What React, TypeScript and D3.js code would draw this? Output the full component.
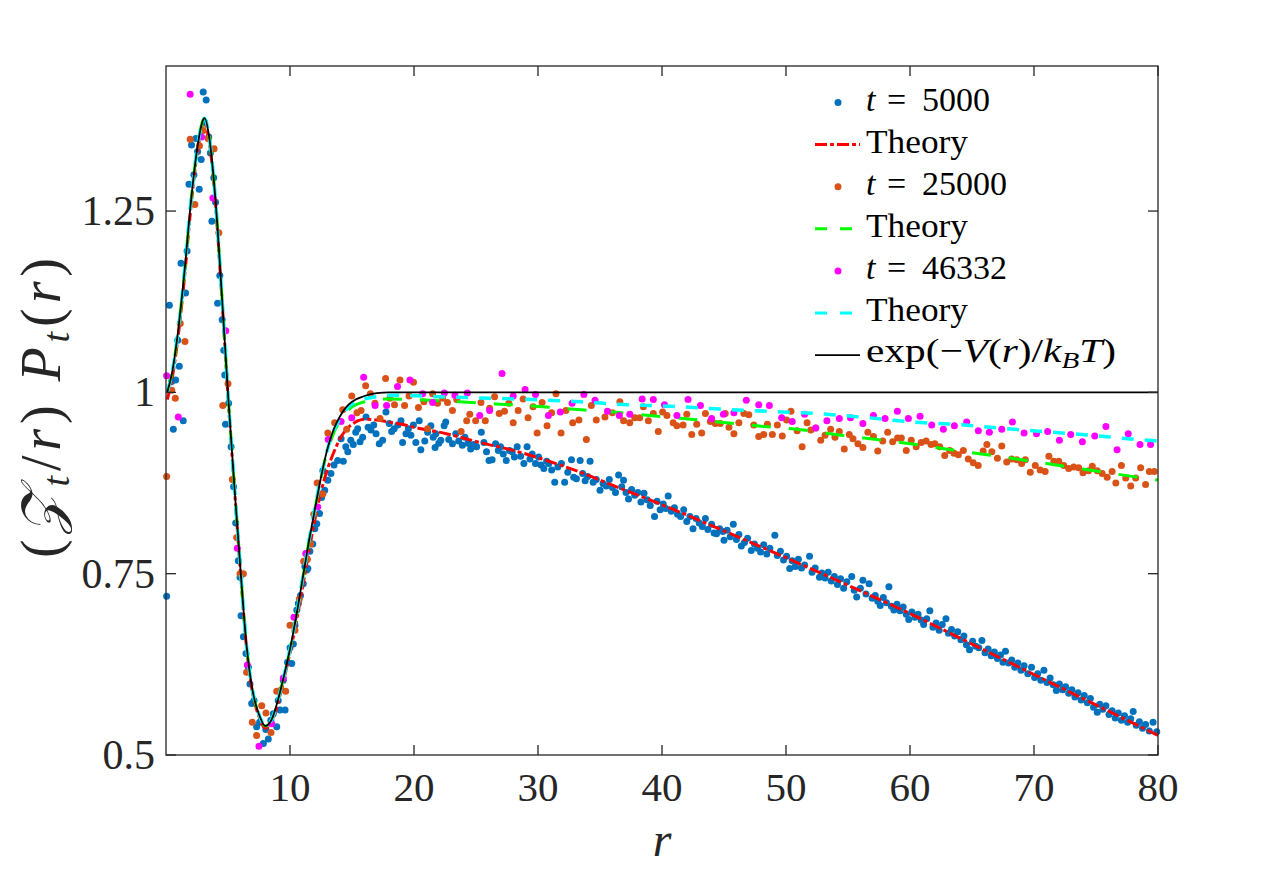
import React from 'react';
import * as d3 from 'd3';

type P = [number, number];

// ---------- data ----------
const BLUE_T5000: P[] = [
[0.05,.719],[0.27,1.120],[0.45,1.015],[0.59,.949],[0.78,1.017],[0.95,1.072],[1.07,1.036],[1.21,1.178],[1.39,.961],[1.58,1.137],
[1.70,1.195],[1.85,1.287],[2.06,1.341],[2.25,1.300],[2.41,1.350],[2.55,1.332],[2.68,1.280],[2.84,1.321],[3.00,1.414],[3.12,1.372],
[3.24,1.403],[3.45,1.352],[3.58,1.330],[3.70,1.236],[3.85,1.296],[4.00,1.262],[4.16,1.123],[4.34,1.161],[4.53,1.100],[4.66,1.058],
[4.74,1.024],[4.80,.956],[5.05,.985],[5.25,.925],[5.45,.870],[5.62,.820],[5.83,.768],[5.97,.745],[6.05,.692],[6.24,.663],
[6.45,.640],[6.64,.621],[6.77,.598],[6.91,.571],[7.10,.575],[7.31,.539],[7.55,.545],[7.85,.516],[8.05,.535],[8.25,.522],
[8.45,.548],[8.65,.557],[8.93,.539],[9.05,.575],[9.19,.562],[9.46,.603],[9.60,.562],[9.80,.628],[10.00,.648],[10.14,.626],
[10.27,.653],[10.40,.679],[10.55,.700],[10.67,.709],[10.85,.720],[11.07,.736],[11.20,.760],[11.35,.755],[11.44,.757],[11.60,.781],
[11.84,.791],[12.00,.812],[12.16,.819],[12.38,.833],[12.55,.855],[12.65,.892],[12.80,.865],[13.05,.879],[13.30,.888],[13.55,.900],
[13.85,.906],[14.12,.936],[14.30,.905],[14.50,.925],[14.66,.918],[14.90,.934],[15.10,.928],[15.30,.945],[15.46,.950],[15.65,.932],
[15.86,.938],[16.13,.966],[16.30,.952],[16.53,.948],[16.75,.955],[16.94,.943],[17.20,.929],[17.47,.934],[17.74,.973],[18.00,.957],
[18.20,.946],[18.40,.950],[18.70,.955],[18.95,.961],[19.08,.931],[19.35,.943],[19.55,.950],[19.75,.941],[19.95,.955],[20.15,.931],
[20.42,.961],[20.55,.921],[20.87,.933],[21.10,.945],[21.36,.954],[21.55,.938],[21.70,.924],[21.76,.943],[22.00,.930],[22.16,.934],
[22.43,.954],[22.56,.959],[22.80,.935],[23.10,.929],[23.37,.943],[23.60,.933],[23.90,.927],[24.10,.938],[24.35,.930],[24.57,.922],
[24.80,.928],[25.05,.925],[25.43,.945],[25.64,.931],[25.85,.918],[26.05,.906],[26.30,.907],[26.58,.929],[26.80,.920],[26.98,.925],
[27.20,.915],[27.44,.906],[27.70,.920],[27.92,.918],[28.10,.911],[28.32,.925],[28.60,.912],[28.86,.902],[29.12,.925],[29.35,.908],
[29.53,.915],[29.80,.902],[30.05,.911],[30.25,.900],[30.47,.895],[30.70,.905],[30.87,.902],[31.10,.893],[31.35,.876],[31.60,.897],
[31.89,.902],[32.15,.876],[32.40,.890],[32.70,.907],[32.88,.883],[33.10,.881],[33.40,.906],[33.60,.888],[33.80,.878],[34.00,.884],
[34.20,.905],[34.45,.876],[34.70,.880],[35.00,.865],[35.25,.874],[35.50,.871],[35.75,.880],[36.00,.869],[36.25,.862],[36.50,.886],
[36.75,.870],[36.90,.879],[37.10,.862],[37.30,.853],[37.55,.866],[37.80,.858],[38.05,.862],[38.30,.849],[38.55,.861],[38.80,.852],
[39.05,.844],[39.40,.829],[39.60,.850],[39.85,.838],[40.10,.846],[40.30,.840],[40.50,.857],[40.75,.836],[41.00,.841],[41.25,.832],
[41.50,.829],[41.75,.838],[42.00,.822],[42.25,.829],[42.50,.812],[42.75,.826],[43.00,.820],[43.25,.815],[43.50,.826],[43.70,.811],
[44.00,.818],[44.20,.806],[44.40,.805],[44.65,.812],[44.90,.808],[45.00,.796],[45.25,.810],[45.50,.801],[45.75,.818],[46.00,.797],
[46.20,.804],[46.40,.788],[46.65,.793],[46.90,.799],[47.20,.782],[47.45,.791],[47.70,.785],[47.95,.780],[48.20,.790],[48.45,.777],
[48.70,.785],[49.10,.803],[49.30,.775],[49.55,.781],[49.80,.769],[50.05,.774],[50.30,.757],[50.50,.768],[50.75,.760],[51.00,.770],
[51.25,.758],[51.50,.762],[51.90,.774],[52.10,.752],[52.35,.758],[52.70,.745],[52.90,.751],[53.15,.744],[53.40,.752],[53.65,.740],
[53.90,.746],[54.15,.735],[54.40,.743],[54.65,.730],[54.90,.739],[55.30,.746],[55.50,.727],[55.70,.718],[56.00,.730],[56.20,.741],
[56.45,.722],[56.70,.736],[56.95,.716],[57.20,.720],[57.40,.712],[57.60,.706],[57.85,.717],[58.10,.710],[58.30,.732],[58.50,.705],
[58.70,.700],[58.95,.708],[59.20,.699],[59.45,.704],[59.70,.694],[59.90,.687],[60.15,.697],[60.40,.690],[60.65,.694],[60.90,.686],
[61.10,.680],[61.35,.688],[61.60,.699],[61.85,.676],[62.10,.682],[62.35,.672],[62.60,.680],[62.90,.688],[63.10,.668],[63.35,.673],
[63.60,.664],[63.85,.670],[64.10,.659],[64.35,.664],[64.55,.652],[64.80,.645],[65.05,.657],[65.30,.650],[65.55,.648],[65.80,.658],
[66.05,.641],[66.30,.646],[66.55,.637],[66.80,.642],[67.05,.633],[67.30,.638],[67.50,.628],[67.70,.643],[67.95,.627],[68.20,.631],
[68.45,.621],[68.70,.627],[68.95,.617],[69.20,.623],[69.50,.612],[69.80,.621],[70.05,.607],[70.30,.612],[70.55,.603],[70.80,.617],
[71.05,.600],[71.30,.606],[71.55,.597],[71.80,.589],[72.05,.598],[72.30,.590],[72.55,.594],[72.80,.585],[73.05,.590],[73.30,.580],
[73.55,.586],[73.80,.576],[74.05,.582],[74.30,.572],[74.55,.578],[74.80,.566],[75.10,.559],[75.30,.570],[75.55,.563],[75.80,.568],
[76.05,.556],[76.30,.561],[76.55,.551],[76.80,.558],[77.05,.548],[77.30,.554],[77.55,.545],[77.80,.550],[78.00,.560],[78.25,.541],
[78.50,.546],[78.75,.537],[79.00,.542],[79.30,.533],[79.60,.545],[79.90,.532]
];

const ORANGE_T25000: P[] = [
[0.05,.884],[0.46,1.003],[0.75,.992],[1.15,1.095],[1.53,1.070],[1.95,1.349],[2.33,1.259],[2.70,1.340],[3.00,1.361],[3.40,1.350],
[3.88,1.336],[4.26,1.220],[4.58,.982],[5.00,1.012],[5.35,.880],[5.70,.800],[5.97,.750],[6.24,.750],[6.50,.614],[6.96,.545],
[7.31,.527],[7.72,.568],[8.06,.558],[8.47,.531],[8.93,.588],[9.30,.590],[9.65,.588],[10.00,.679],[10.40,.672],[10.75,.715],
[11.10,.767],[11.40,.770],[11.66,.791],[11.92,.832],[12.19,.875],[12.65,.860],[13.05,.944],[13.60,.958],[14.25,.976],[14.57,.949],
[14.98,.995],[15.40,.972],[15.73,.975],[16.10,1.009],[16.48,.998],[16.85,.985],[17.26,.964],[17.71,1.019],[18.05,.992],[18.43,.983],
[18.87,1.017],[19.24,.982],[19.60,.995],[19.96,1.014],[20.36,.979],[20.80,.987],[21.10,.950],[21.50,.998],[21.90,.985],[22.30,.992],
[22.70,.986],[23.10,.975],[23.45,.990],[23.80,.946],[24.25,.961],[24.50,.970],[24.97,.961],[25.40,.986],[25.75,.961],[26.10,.978],
[26.50,.994],[26.87,.971],[27.30,.974],[27.65,.985],[28.00,.958],[28.40,.975],[28.80,.991],[29.20,.965],[29.60,.980],[29.93,.944],
[30.33,.986],[30.73,.954],[31.10,.972],[31.45,.998],[31.86,.944],[32.25,.975],[32.80,.958],[33.30,.962],[33.90,.935],[34.30,.982],
[34.70,.962],[35.40,.966],[36.00,.972],[36.60,.987],[36.90,.961],[37.40,.958],[37.80,.965],[38.20,.965],[38.50,.980],[38.90,.961],
[39.30,.971],[39.70,.946],[40.05,.973],[40.40,.968],[40.90,.958],[41.20,.954],[41.70,.955],[42.00,.970],[42.40,.942],[42.80,.956],
[43.20,.944],[43.50,.971],[43.90,.960],[44.30,.957],[44.70,.957],[45.10,.971],[45.40,.952],[45.80,.943],[46.20,.958],[46.60,.971],
[47.00,.969],[47.40,.955],[47.80,.939],[48.20,.942],[48.50,.956],[48.90,.942],[49.30,.955],[49.70,.940],[50.05,.962],[50.40,.974],
[50.90,.947],[51.30,.925],[51.70,.958],[52.00,.948],[52.40,.951],[52.80,.934],[53.15,.941],[53.60,.949],[53.95,.938],[54.30,.946],
[54.70,.922],[55.10,.942],[55.40,.936],[55.80,.929],[56.20,.924],[56.60,.945],[57.05,.939],[57.40,.919],[57.80,.933],[58.20,.945],
[58.60,.932],[59.00,.937],[59.30,.937],[59.70,.920],[60.10,.934],[60.50,.925],[60.90,.931],[61.30,.933],[61.70,.928],[62.00,.929],
[62.40,.925],[62.80,.913],[63.20,.920],[63.55,.916],[63.90,.914],[64.30,.920],[64.70,.908],[65.10,.903],[65.50,.899],[65.90,.919],
[66.20,.928],[66.60,.918],[67.05,.909],[67.40,.926],[67.80,.904],[68.20,.908],[68.60,.907],[69.00,.902],[69.30,.907],[69.70,.890],
[70.10,.899],[70.50,.893],[70.90,.891],[71.20,.912],[71.60,.905],[72.00,.905],[72.40,.899],[72.80,.895],[73.20,.897],[73.60,.896],
[73.95,.889],[74.40,.892],[74.70,.898],[75.10,.892],[75.50,.888],[75.90,.883],[76.30,.891],[76.60,.875],[77.05,.899],[77.40,.882],
[77.80,.871],[78.20,.882],[78.60,.896],[79.00,.873],[79.30,.891],[79.70,.891]
];

const MAGENTA_T46332: P[] = [
[0.05,1.023],[0.99,.966],[1.95,1.411],[2.87,1.352],[3.78,1.268],[4.82,1.085],[5.75,.785],[6.56,.624],[7.50,.512],[8.52,.543],
[9.46,.606],[10.32,.690],[11.27,.778],[12.24,.842],[13.08,.935],[14.12,.960],[14.98,.965],[15.94,1.021],[16.86,.982],[17.79,.982],
[18.67,1.008],[19.67,1.017],[20.70,.998],[21.50,.986],[22.45,.999],[23.30,.996],[24.30,.999],[25.30,.968],[26.10,.975],[27.10,1.026],
[28.00,.995],[28.96,1.004],[29.80,.997],[30.84,.968],[31.80,.973],[32.75,.985],[33.70,.997],[34.60,.989],[35.60,.974],[36.56,.968],
[37.40,.970],[38.40,.991],[39.30,.990],[40.20,.983],[41.20,.968],[42.10,.990],[43.10,.982],[44.00,.964],[44.95,.970],[45.80,.972],
[46.80,.989],[47.80,.983],[48.66,.982],[49.65,.965],[50.50,.960],[51.50,.970],[52.40,.951],[53.30,.961],[54.30,.964],[55.20,.965],
[56.20,.957],[57.05,.968],[57.99,.964],[58.98,.974],[59.87,.964],[60.81,.967],[61.75,.955],[62.69,.949],[63.58,.954],[64.57,.959],
[65.51,.947],[66.40,.945],[67.40,.949],[68.26,.959],[69.20,.944],[70.20,.943],[71.10,.946],[72.05,.934],[72.96,.942],[73.90,.932],
[74.90,.940],[75.80,.953],[76.70,.921],[77.60,.943],[78.55,.928],[79.40,.928]
];

// exp(-V(r)/kBT): common core for small r, then flat
const EXP_CORE: P[] = [
[0.1,1.0],[0.5,1.028],[1.0,1.088],[1.5,1.168],[2.0,1.261],[2.5,1.334],[3.0,1.376],[3.1,1.378],[3.5,1.35],[4.0,1.263],
[4.5,1.135],[5.0,0.998],[5.5,0.874],[6.0,0.757],[6.5,0.650],[7.0,0.587],[7.5,0.556],[8.0,0.540],[8.5,0.548],[9.0,0.574],
[9.5,0.608],[10.0,0.646],[10.5,0.691],[11.0,0.741],[11.5,0.792]
];
const EXP_TAIL: P[] = [
[12.0,0.838],[12.5,0.883],[13.0,0.921],[13.5,0.948],[14.0,0.966],[14.5,0.979],[15.0,0.987],[16.0,0.995],[17.0,0.999],[18.0,1.0],[80.0,1.0]
];
const THEORY_T5000: P[] = [
[0.1,0.99],[0.5,1.02],[1.0,1.08],[1.5,1.16],[2.0,1.254],[2.5,1.328],[3.0,1.368],[3.1,1.37],[3.5,1.344],[4.0,1.258],
[4.5,1.132],[5.0,0.995],[5.5,0.872],[6.0,0.754],[6.5,0.647],[7.0,0.584],[7.5,0.553],[8.0,0.537],[8.5,0.545],[9.0,0.570],
[9.5,0.604],[10.0,0.641],[10.5,0.683],[11.0,0.730],[11.5,0.778],[12.0,0.824],[12.5,0.863],[13.0,0.893],[13.5,0.916],[14.0,0.935],
[14.5,0.948],[15.0,0.956],[15.5,0.961],[16.0,0.963],[17.0,0.962],[18.0,0.959],[19.0,0.956],[20.0,0.952],[22.6,0.943],[25.3,0.931],
[28.0,0.920],[30.7,0.906],[33.4,0.890],[36.0,0.872],[40.0,0.845],[45.0,0.809],[50.0,0.772],[55.0,0.734],[60.0,0.695],[65.0,0.653],
[70.0,0.611],[75.0,0.569],[80.0,0.527]
];
const THEORY_T25000_TAIL: P[] = [
[12.0,0.838],[12.5,0.882],[13.0,0.918],[13.5,0.943],[14.0,0.960],[14.5,0.972],[15.0,0.980],[16.0,0.987],[17.0,0.990],[18.0,0.991],
[20.0,0.990],[23.6,0.987],[26.6,0.984],[29.8,0.981],[32.6,0.977],[36.1,0.973],[39.0,0.968],[42.3,0.963],[45.2,0.958],[48.2,0.953],
[51.4,0.948],[54.4,0.941],[56.8,0.936],[60.5,0.928],[63.6,0.920],[66.7,0.913],[69.8,0.905],[72.9,0.897],[76.0,0.889],[80.0,0.879]
];
const THEORY_T46332_TAIL: P[] = [
[12.0,0.840],[12.5,0.884],[13.0,0.920],[13.5,0.946],[14.0,0.963],[14.5,0.976],[15.0,0.984],[16.0,0.991],[17.0,0.994],[18.5,0.996],
[22.0,0.994],[26.0,0.992],[29.5,0.990],[33.4,0.987],[37.2,0.983],[40.6,0.981],[44.7,0.977],[48.4,0.974],[52.2,0.971],[56.0,0.966],
[60.3,0.959],[63.5,0.956],[67.0,0.951],[70.75,0.946],[74.5,0.941],[78.3,0.935],[80.0,0.933]
];

const X_DOMAIN = [0, 80];
const Y_DOMAIN = [0.5, 1.45];
const X_TICKS = [10, 20, 30, 40, 50, 60, 70, 80];
const Y_TICKS = [0.5, 0.75, 1, 1.25];
const Y_TICK_LABELS = ['0.5', '0.75', '1', '1.25'];
const T_LABELS = ['5000', '25000', '46332'];

// ---------- styling ----------
const FONT = '"Liberation Serif", "Times New Roman", serif';
const AX = '#262626';
const C_BLUE = '#0072BD';
const C_ORANGE = '#D95319';
const C_MAGENTA = '#FF00FF';
const C_RED = '#FF0000';
const C_GREEN = '#00FF00';
const C_CYAN = '#00FFFF';

export default function App() {
  const L = 166, R = 1158, T = 66, B = 755;
  const x = d3.scaleLinear().domain(X_DOMAIN).range([L, R]);
  const y = d3.scaleLinear().domain(Y_DOMAIN).range([B, T]);
  const line = d3.line<P>().x(d => x(d[0])).y(d => y(d[1])).curve(d3.curveMonotoneX);

  const exp = [...EXP_CORE, ...EXP_TAIL];
  const th25 = [...EXP_CORE, ...THEORY_T25000_TAIL];
  const th46 = [...EXP_CORE, ...THEORY_T46332_TAIL];

  const dots = (data: P[], color: string) =>
    data.map((d, i) => <circle key={i} cx={x(d[0])} cy={y(d[1])} r={3.5} fill={color} />);

  const rowY = (i: number) => 102.5 + i * 42.1;
  const LX0 = 815, LX1 = 860, TX = 866;
  const legendFont = 34;

  const tLabel = (i: number, row: number) => (
    <text key={'tl' + i} y={rowY(row) + 8} fontSize={legendFont} fill="#000" fontFamily={FONT}>
      <tspan x={TX} fontStyle="italic">t</tspan>
      <tspan x={887}>=</tspan>
      <tspan x={922}>{T_LABELS[i]}</tspan>
    </text>
  );
  const theoryLabel = (row: number) => (
    <text key={'th' + row} x={TX} y={rowY(row) + 8} fontSize={legendFont} fill="#000" fontFamily={FONT}
      textLength={102} lengthAdjust="spacingAndGlyphs">Theory</text>
  );

  return (
    <svg width={1280} height={885} style={{ position: 'absolute', left: 0, top: 0, background: '#fff' }}
      fontFamily={FONT}>
      <rect x={0} y={0} width={1280} height={885} fill="#fff" />
      <defs>
        <clipPath id="plotclip"><rect x={L} y={T} width={R - L} height={B - T} /></clipPath>
      </defs>

      {/* series in legend order */}
      <g>{dots(BLUE_T5000, C_BLUE)}</g>
      <path d={line(THEORY_T5000) || ''} fill="none" stroke={C_RED} strokeWidth={3} strokeDasharray="12,3,4,3" clipPath="url(#plotclip)" />
      <g>{dots(ORANGE_T25000, C_ORANGE)}</g>
      <path d={line(th25) || ''} fill="none" stroke={C_GREEN} strokeWidth={3} strokeDasharray="19,18" clipPath="url(#plotclip)" />
      <g>{dots(MAGENTA_T46332, C_MAGENTA)}</g>
      <path d={line(th46) || ''} fill="none" stroke={C_CYAN} strokeWidth={3.5} strokeDasharray="12,11" clipPath="url(#plotclip)" />
      <path d={line(exp) || ''} fill="none" stroke="#000" strokeWidth={1.8} clipPath="url(#plotclip)" />

      {/* axes box */}
      <rect x={L} y={T} width={R - L} height={B - T} fill="none" stroke={AX} strokeWidth={1.3} />
      {X_TICKS.map(t => (
        <g key={'xt' + t}>
          <line x1={x(t)} x2={x(t)} y1={B} y2={B - 10} stroke={AX} strokeWidth={1.3} />
          <line x1={x(t)} x2={x(t)} y1={T} y2={T + 10} stroke={AX} strokeWidth={1.3} />
          <text x={x(t)} y={801} textAnchor="middle" fontSize={41} fill={AX}>{t}</text>
        </g>
      ))}
      {Y_TICKS.map((t, i) => (
        <g key={'yt' + t}>
          <line x1={L} x2={L + 10} y1={y(t)} y2={y(t)} stroke={AX} strokeWidth={1.3} />
          <line x1={R} x2={R - 10} y1={y(t)} y2={y(t)} stroke={AX} strokeWidth={1.3} />
          <text x={155} y={y(t) + 14} textAnchor="end" fontSize={42} fill={AX}>{Y_TICK_LABELS[i]}</text>
        </g>
      ))}

      {/* axis labels */}
      <text x={662} y={856} textAnchor="middle" fontSize={48} fontStyle="italic" fill={AX}>r</text>
      <text transform="translate(60,408) rotate(-90)" textAnchor="middle" fontSize={56} fill={AX}
        textLength={300} lengthAdjust="spacing">
        <tspan>(</tspan>
        <tspan fontStyle="italic">{'\u{1D4B5}'}</tspan>
        <tspan fontStyle="italic" fontSize={38} dy={9}>t</tspan>
        <tspan dy={-9}>/</tspan>
        <tspan fontStyle="italic">r</tspan>
        <tspan>{')\u00A0'}</tspan>
        <tspan fontStyle="italic">P</tspan>
        <tspan fontStyle="italic" fontSize={38} dy={9}>t</tspan>
        <tspan dy={-9}>(</tspan>
        <tspan fontStyle="italic">r</tspan>
        <tspan>)</tspan>
      </text>

      {/* legend */}
      <circle cx={838} cy={rowY(0)} r={3.5} fill={C_BLUE} />
      {tLabel(0, 0)}
      <line x1={LX0} x2={LX1} y1={rowY(1)} y2={rowY(1)} stroke={C_RED} strokeWidth={3} strokeDasharray="12,3,4,3" />
      {theoryLabel(1)}
      <circle cx={838} cy={rowY(2)} r={3.5} fill={C_ORANGE} />
      {tLabel(1, 2)}
      <line x1={LX0} x2={LX1} y1={rowY(3)} y2={rowY(3)} stroke={C_GREEN} strokeWidth={3} strokeDasharray="12,13" />
      {theoryLabel(3)}
      <circle cx={838} cy={rowY(4)} r={3.5} fill={C_MAGENTA} />
      {tLabel(2, 4)}
      <line x1={LX0} x2={LX1} y1={rowY(5)} y2={rowY(5)} stroke={C_CYAN} strokeWidth={3} strokeDasharray="12,13" />
      {theoryLabel(5)}
      <line x1={LX0} x2={LX1} y1={rowY(6)} y2={rowY(6)} stroke="#000" strokeWidth={1.8} />
      <text x={TX} y={rowY(6) + 7} fontSize={legendFont} fill="#000" textLength={250} lengthAdjust="spacingAndGlyphs">
        <tspan>exp(</tspan>
        <tspan>{'\u2212'}</tspan>
        <tspan fontStyle="italic">V</tspan>
        <tspan>(</tspan>
        <tspan fontStyle="italic">r</tspan>
        <tspan>)/</tspan>
        <tspan fontStyle="italic">k</tspan>
        <tspan fontStyle="italic" fontSize={24} dy={6}>B</tspan>
        <tspan fontStyle="italic" dy={-6}>T</tspan>
        <tspan>)</tspan>
      </text>
    </svg>
  );
}
